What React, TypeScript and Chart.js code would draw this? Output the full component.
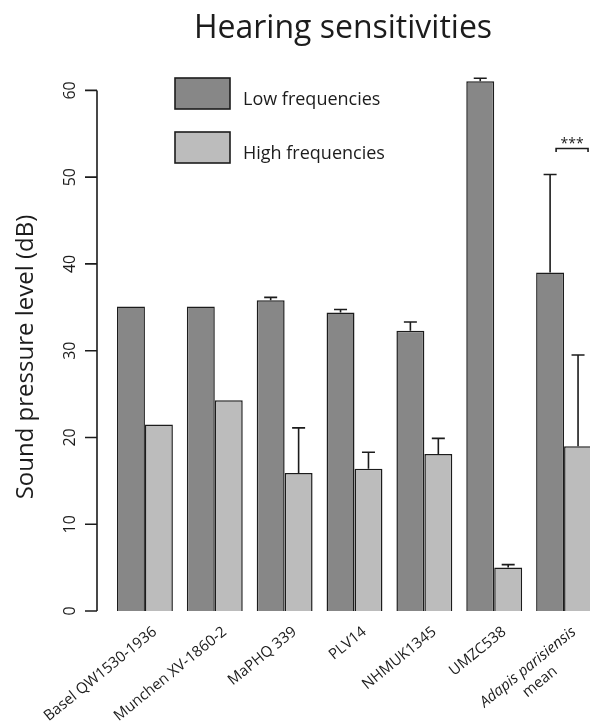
import React, { useEffect, useRef } from "react";
import { Chart, registerables } from "chart.js";

Chart.register(...registerables);

// ---- data ----
const categories: string[][] = [
  ["Basel QW1530-1936"],
  ["Munchen XV-1860-2"],
  ["MaPHQ 339"],
  ["PLV14"],
  ["NHMUK1345"],
  ["UMZC538"],
  ["Adapis parisiensis", "mean"],
];
const italicFirstLine = [false, false, false, false, false, false, true];
const lowValues = [35.1, 35.1, 35.8, 34.4, 32.3, 61.05, 39.0];
const lowErrors = [0, 0, 0.35, 0.35, 1.0, 0.35, 11.3];
const highValues = [21.5, 24.3, 15.9, 16.4, 18.1, 5.0, 19.0];
const highErrors = [0, 0, 5.2, 1.9, 1.8, 0.35, 10.5];
const yTicks = [0, 10, 20, 30, 40, 50, 60];
const seriesNames = ["Low frequencies", "High frequencies"];
const titleText = "Hearing sensitivities";
const yTitle = "Sound pressure level (dB)";
const significance = "***";

const DARK = "#878787";
const LIGHT = "#bcbcbc";
const INK = "#1c1c1c";
const FONT = "'Open Sans'";

const overlay = {
  id: "overlay",
  afterDatasetsDraw(chart: any) {
    const ctx = chart.ctx;
    const y = chart.scales.y;
    ctx.save();
    ctx.strokeStyle = INK;
    ctx.lineWidth = 1.6;
    [lowErrors, highErrors].forEach((errs, di) => {
      const vals = di === 0 ? lowValues : highValues;
      const meta = chart.getDatasetMeta(di);
      meta.data.forEach((bar: any, i: number) => {
        if (!errs[i]) return;
        const px = bar.x;
        const top = y.getPixelForValue(vals[i]);
        const e = y.getPixelForValue(vals[i] + errs[i]);
        ctx.beginPath();
        ctx.moveTo(px, top);
        ctx.lineTo(px, e);
        ctx.moveTo(px - 6.5, e);
        ctx.lineTo(px + 6.5, e);
        ctx.stroke();
      });
    });
    // significance bracket on last group
    const last = categories.length - 1;
    const b0 = chart.getDatasetMeta(0).data[last];
    const b1 = chart.getDatasetMeta(1).data[last];
    const by = y.getPixelForValue(53.3);
    const bx0 = b0.x + 6;
    const bx1 = b1.x + 10;
    ctx.beginPath();
    ctx.moveTo(bx0, by + 3.5);
    ctx.lineTo(bx0, by);
    ctx.lineTo(bx1, by);
    ctx.lineTo(bx1, by + 3.5);
    ctx.stroke();
    ctx.fillStyle = INK;
    ctx.font = `14px ${FONT}`;
    ctx.textAlign = "center";
    ctx.textBaseline = "alphabetic";
    ctx.fillText(significance, (bx0 + bx1) / 2, by - 1);
    ctx.restore();
  },
  afterDraw(chart: any) {
    const ctx = chart.ctx;
    const x = chart.scales.x;
    const y = chart.scales.y;
    const area = chart.chartArea;
    ctx.save();
    ctx.fillStyle = INK;
    ctx.strokeStyle = INK;
    ctx.lineWidth = 1.6;

    // y axis (detached, R style)
    const ax = area.left - 13;
    ctx.beginPath();
    ctx.moveTo(ax, y.getPixelForValue(yTicks[0]));
    ctx.lineTo(ax, y.getPixelForValue(yTicks[yTicks.length - 1]));
    yTicks.forEach((t) => {
      const py = y.getPixelForValue(t);
      ctx.moveTo(ax, py);
      ctx.lineTo(ax - 12, py);
    });
    ctx.stroke();
    ctx.font = `16px ${FONT}`;
    ctx.textAlign = "center";
    ctx.textBaseline = "alphabetic";
    yTicks.forEach((t) => {
      const py = y.getPixelForValue(t);
      ctx.save();
      ctx.translate(ax - 22, py);
      ctx.rotate(-Math.PI / 2);
      ctx.fillText(String(t), 0, 0);
      ctx.restore();
    });

    // y title
    ctx.save();
    ctx.font = `24px ${FONT}`;
    ctx.translate(33, 357);
    ctx.rotate(-Math.PI / 2);
    ctx.textAlign = "center";
    ctx.fillText(yTitle, 0, 0);
    ctx.restore();

    // x labels
    const ang = (-39 * Math.PI) / 180;
    categories.forEach((lines, i) => {
      const px = x.getPixelForValue(i);
      ctx.save();
      ctx.translate(px + 10, y.getPixelForValue(0) + 19);
      ctx.rotate(ang);
      ctx.textBaseline = "middle";
      ctx.font = `${italicFirstLine[i] ? "italic " : ""}15px ${FONT}`;
      const w0 = ctx.measureText(lines[0]).width;
      ctx.textAlign = "right";
      ctx.fillText(lines[0], 0, 0);
      if (lines.length > 1) {
        ctx.font = `15px ${FONT}`;
        ctx.textAlign = "center";
        ctx.fillText(lines[1], -w0 / 2, 19);
      }
      ctx.restore();
    });

    // legend
    const lx = 175, lw = 55, lh = 31;
    const rows = [78, 132];
    const fills = [DARK, LIGHT];
    ctx.font = `18px ${FONT}`;
    ctx.textAlign = "left";
    ctx.textBaseline = "alphabetic";
    rows.forEach((ry, k) => {
      ctx.fillStyle = fills[k];
      ctx.fillRect(lx, ry, lw, lh);
      ctx.lineWidth = 1.6;
      ctx.strokeStyle = INK;
      ctx.strokeRect(lx, ry, lw, lh);
      ctx.fillStyle = INK;
      ctx.fillText(seriesNames[k], lx + 68, ry + 27);
    });

    // title
    ctx.font = `32px ${FONT}`;
    ctx.textAlign = "center";
    ctx.fillText(titleText, 343, 38);
    ctx.restore();
  },
};

export default function App() {
  const ref = useRef<HTMLCanvasElement | null>(null);
  useEffect(() => {
    if (!ref.current) return;
    const chart = new Chart(ref.current, {
      type: "bar",
      data: {
        labels: categories.map((c) => c.join(" ")),
        datasets: [
          {
            label: seriesNames[0],
            data: lowValues,
            backgroundColor: DARK,
            borderColor: INK,
            borderWidth: 1.5,
            categoryPercentage: 0.8,
            barPercentage: 1.0,
          },
          {
            label: seriesNames[1],
            data: highValues,
            backgroundColor: LIGHT,
            borderColor: INK,
            borderWidth: 1.5,
            categoryPercentage: 0.8,
            barPercentage: 1.0,
          },
        ],
      },
      options: {
        responsive: false,
        animation: false,
        devicePixelRatio: 1,
        layout: { padding: { left: 110, right: 1, top: 47, bottom: 111 } },
        plugins: { legend: { display: false }, tooltip: { enabled: false }, title: { display: false } },
        scales: {
          x: { display: false },
          y: { display: false, min: 0, max: 65 },
        },
      },
      plugins: [overlay],
    });
    return () => chart.destroy();
  }, []);
  return (
    <div style={{ position: "absolute", left: 0, top: 0, width: 590, height: 722, overflow: "hidden", background: "#fff" }}>
      <canvas ref={ref} width={600} height={722} style={{ display: "block" }} />
    </div>
  );
}
